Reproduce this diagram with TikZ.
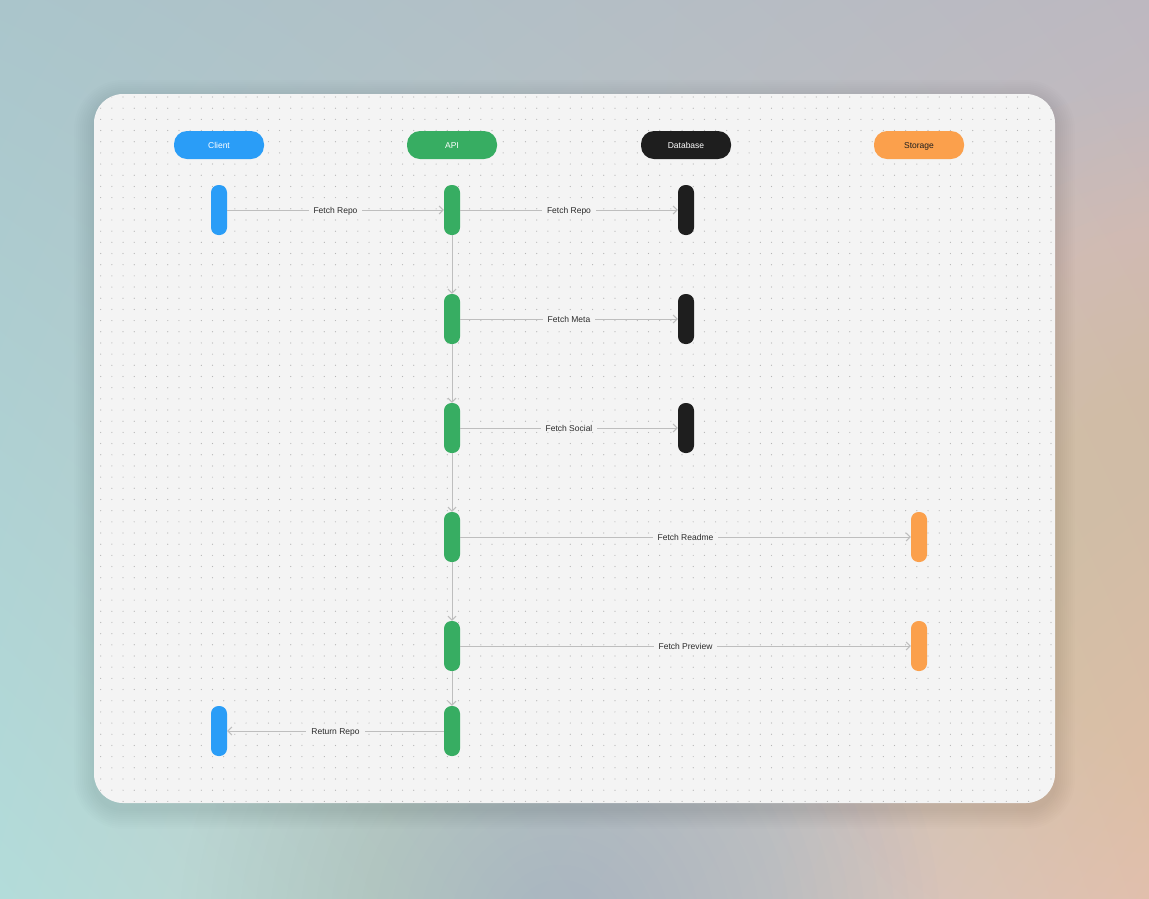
\documentclass[tikz,border=0pt]{standalone}
\usepackage{fontspec}
\setmainfont{Liberation Sans}
\usetikzlibrary{arrows.meta,shadings}
\definecolor{cblue}{HTML}{2A9DF7}
\definecolor{cgreen}{HTML}{37AD62}
\definecolor{cblack}{HTML}{1E1E1E}
\definecolor{corange}{HTML}{FBA04C}
\definecolor{card}{HTML}{F4F4F4}
\definecolor{dotc}{HTML}{B4B4B4}
\definecolor{linec}{HTML}{BEBEBE}
\definecolor{txt}{HTML}{2A2A2A}
\definecolor{bgUL}{HTML}{AAC5CB}
\definecolor{bgUR}{HTML}{BDB8C0}
\definecolor{bgLL}{HTML}{B3DCDA}
\definecolor{bgLR}{HTML}{E1BFB3}
\definecolor{peach}{HTML}{F4C3A6}
\definecolor{teal}{HTML}{88B0C0}
\begin{document}
\begin{tikzpicture}[x=1pt,y=-1pt,
  header/.style={rounded corners=13pt, minimum width=90pt, minimum height=28pt, inner sep=0pt, text height=6.1pt, text depth=0pt, font=\fontsize{8.5}{10}\selectfont},
  bar/.style={rounded corners=7.5pt, minimum width=16pt, minimum height=50pt, inner sep=0pt},
  msg/.style={draw=linec, line width=1pt, -{Straight Barb[length=4pt,width=8pt,line width=1pt]}},
  lbl/.style={fill=card, inner xsep=5pt, inner ysep=1pt, text height=6.1pt, text depth=0pt, text=txt, font=\fontsize{8.5}{10}\selectfont}
]
\useasboundingbox (0,0) rectangle (1149,898);
\shade[upper left=bgUL, upper right=bgUR, lower left=bgLL, lower right=bgLR] (0,0) rectangle (1149,898);
\begin{scope}
\clip (0,0) rectangle (1149,898);
\foreach \r in {450,435,...,40}{
  \fill[peach, opacity=0.026] (1180,540) circle (\r);
}
\foreach \r in {380,365,...,40}{
  \fill[teal, opacity=0.02] (560,930) circle (\r);
}
\end{scope}
% shadow
\foreach \e in {2,4,...,20}{
  \pgfmathsetmacro{\rc}{29+\e}
  \fill[black, opacity=0.008, rounded corners=\rc pt] (94-\e,100-\e) rectangle (1055+\e,809+\e);
}
\fill[card, rounded corners=29pt] (94,94) rectangle (1055,803);
\begin{scope}
\clip[rounded corners=29pt] (94,94) rectangle (1055,803);
\foreach \i in {0,...,85}{
  \foreach \j in {0,...,63}{
    \fill[dotc] (100.7+\i*11.18, 97+\j*11.18) circle (0.6);
  }
}
\end{scope}
% headers
\node[header, fill=cblue, text=white] (cl) at (219,145) {Client};
\node[header, fill=cgreen, text=white] (api) at (452,145) {API};
\node[header, fill=cblack, text=white] (db) at (686,145) {Database};
\node[header, fill=corange, text=cblack] (st) at (919,145) {Storage};
% bars
\node[bar, fill=cblue] (c1) at (219,210) {};
\node[bar, fill=cgreen] (a1) at (452,210) {};
\node[bar, fill=cblack] (d1) at (686,210) {};
\node[bar, fill=cgreen] (a2) at (452,319) {};
\node[bar, fill=cblack] (d2) at (686,319) {};
\node[bar, fill=cgreen] (a3) at (452,428) {};
\node[bar, fill=cblack] (d3) at (686,428) {};
\node[bar, fill=cgreen] (a4) at (452,537) {};
\node[bar, fill=corange] (s4) at (919,537) {};
\node[bar, fill=cgreen] (a5) at (452,646) {};
\node[bar, fill=corange] (s5) at (919,646) {};
\node[bar, fill=cblue] (c6) at (219,731) {};
\node[bar, fill=cgreen] (a6) at (452,731) {};
% messages
\draw[msg] (c1.east) -- node[lbl]{Fetch Repo} (a1.west);
\draw[msg] (a1.east) -- node[lbl]{Fetch Repo} (d1.west);
\draw[msg] (a2.east) -- node[lbl]{Fetch Meta} (d2.west);
\draw[msg] (a3.east) -- node[lbl]{Fetch Social} (d3.west);
\draw[msg] (a4.east) -- node[lbl]{Fetch Readme} (s4.west);
\draw[msg] (a5.east) -- node[lbl]{Fetch Preview} (s5.west);
\draw[msg] (a6.west) -- node[lbl]{Return Repo} (c6.east);
% API flow
\draw[msg] (a1.south) -- (a2.north);
\draw[msg] (a2.south) -- (a3.north);
\draw[msg] (a3.south) -- (a4.north);
\draw[msg] (a4.south) -- (a5.north);
\draw[msg] (a5.south) -- (a6.north);
\end{tikzpicture}
\end{document}
